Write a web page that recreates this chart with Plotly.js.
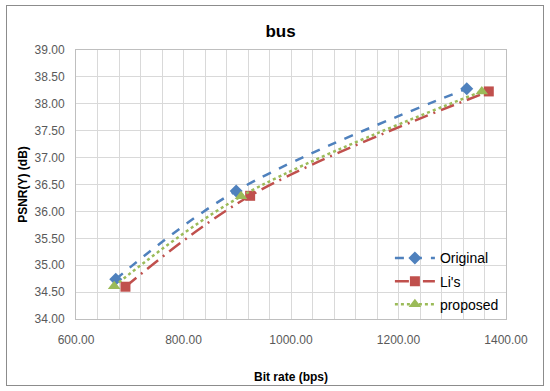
<!DOCTYPE html>
<html>
<head>
<meta charset="utf-8">
<script src="https://cdn.plot.ly/plotly-3.0.1.min.js"></script>
<style>
html,body{margin:0;padding:0;background:#fff;}
#wrap{position:absolute;left:0;top:0;width:550px;height:391px;}
#frame{position:absolute;left:6px;top:5px;width:538px;height:381px;border:1px solid #8c8c8c;box-sizing:border-box;pointer-events:none;}
#chart{position:absolute;left:0;top:0;width:550px;height:391px;}
</style>
</head>
<body>
<div id="wrap"><div id="chart"></div><div id="frame"></div></div>
<script>
const seriesNames = ["Original", "Li's", "proposed"];
const origX = [674, 898, 1327];
const origY = [34.74, 36.38, 38.28];
const liX = [692, 924, 1368];
const liY = [34.60, 36.29, 38.23];
const propX = [671, 907, 1355];
const propY = [34.61, 36.28, 38.23];

const traces = [
  {x: origX, y: origY, name: seriesNames[0], legendgroup: 'a', mode: 'lines+markers', type: 'scatter',
   line: {color: '#4F81BD', width: 2.5, dash: 'dash', shape: 'spline'},
   marker: {symbol: 'diamond', size: 10, color: '#4F81BD'}},
  {x: liX, y: liY, name: seriesNames[1], legendgroup: 'b', mode: 'lines+markers', type: 'scatter',
   line: {color: '#C0504D', width: 2.5, dash: '14px,6px,2px,6px', shape: 'spline'},
   marker: {symbol: 'square', size: 10, color: '#C0504D'}},
  {x: propX, y: propY, name: seriesNames[2], legendgroup: 'c', mode: 'lines+markers', type: 'scatter',
   line: {color: '#9BBB59', width: 2.5, dash: 'dot', shape: 'spline'},
   marker: {symbol: 'triangle-up', size: 11, color: '#9BBB59'}}
];

const layout = {
  width: 550, height: 391,
  margin: {l: 76, r: 44, t: 50, b: 72},
  paper_bgcolor: '#fff', plot_bgcolor: '#fff',
  font: {family: 'Liberation Sans, Arial, sans-serif', size: 12, color: '#595959'},
  title: {text: '<b>bus</b>', x: 0.51, xanchor: 'center', y: 0.92, yanchor: 'middle',
          font: {family: 'Liberation Sans, Arial, sans-serif', size: 17, color: '#000'}},
  xaxis: {range: [600, 1400], dtick: 200, tick0: 600, tickformat: '.2f',
          showgrid: true, gridcolor: '#d9d9d9', gridwidth: 1,
          minor: {dtick: 40, showgrid: true, gridcolor: '#d9d9d9', gridwidth: 1},
          showline: true, linecolor: '#bfbfbf', mirror: true, zeroline: false,
          ticks: '', ticklen: 0, ticklabelstandoff: 10,
          tickfont: {size: 12, color: '#595959'},
          title: {text: '<b>Bit rate (bps)</b>', standoff: 26, font: {size: 12, color: '#000'}}},
  yaxis: {range: [34, 39], dtick: 0.5, tickformat: '.2f',
          showgrid: true, gridcolor: '#d9d9d9', gridwidth: 1,
          showline: true, linecolor: '#bfbfbf', mirror: true, zeroline: false,
          ticks: '', ticklen: 0, ticklabelstandoff: 8,
          tickfont: {size: 12, color: '#595959'},
          title: {text: '<b>PSNR(Y) (dB)</b>', standoff: 4, font: {size: 12, color: '#000'}}},
  legend: {x: 0.73, y: 0.285, xanchor: 'left', yanchor: 'top', bgcolor: 'rgba(255,255,255,0)',
           traceorder: 'grouped', tracegroupgap: 2,
           font: {size: 14, color: '#000'}, itemwidth: 40},
  showlegend: true
};

Plotly.newPlot('chart', traces, layout, {displayModeBar: false, staticPlot: true});
</script>
</body>
</html>
